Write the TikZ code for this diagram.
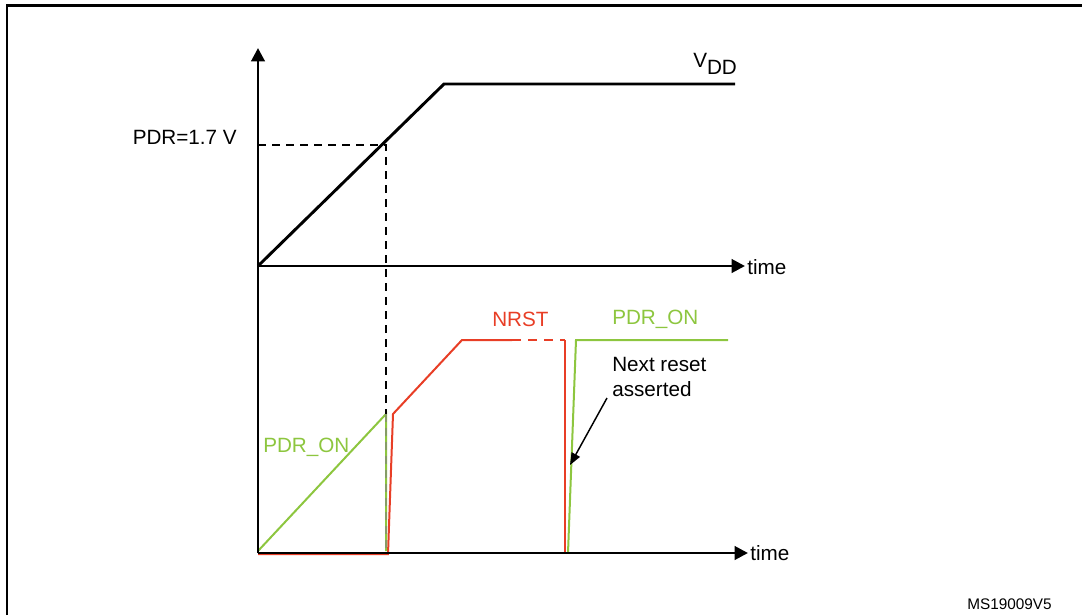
\documentclass[tikz,border=0pt]{standalone}
\usepackage{fontspec}
\setmainfont{Liberation Sans}
\usetikzlibrary{arrows.meta}
\definecolor{nred}{RGB}{232,62,38}
\definecolor{pgreen}{RGB}{141,198,63}
\begin{document}
\begin{tikzpicture}[x=0.75pt,y=-0.75pt,
  axis/.style={line width=2.2pt,-{Triangle[length=10pt,width=10pt]}},
  frame/.style={line width=1.6pt},
  vdd/.style={line width=2.2pt,line join=miter},
  guide/.style={line width=1.4pt,dashed,dash pattern=on 6pt off 4.5pt},
  redsig/.style={nred,line width=1.5pt},
  greensig/.style={pgreen,line width=1.5pt},
  lbl/.style={font=\fontsize{15.5}{19}\selectfont,inner sep=0pt},
  small/.style={font=\fontsize{11.5}{14}\selectfont,inner sep=0pt},
  annot/.style={line width=1.1pt,-{Triangle[length=9pt,width=7pt]}}]
\useasboundingbox (0,0) rectangle (1082,615);
% frame
\draw[frame] (7,615) -- (7,5.5) -- (1082,5.5);
% coordinates
\coordinate (o1) at (258,266);
\coordinate (ytop) at (258,48);
\coordinate (x1) at (745,266);
\coordinate (o2) at (258,553);
\coordinate (x2) at (748,553);
\coordinate (vk) at (444,84);
\coordinate (ve) at (735,84);
\coordinate (pdr) at (386,145);
\coordinate (pdrY) at (258,145);
\coordinate (gpk) at (386,414);
\coordinate (gb1) at (386,551);
\coordinate (g0) at (258,551);
\coordinate (gb2) at (568,553);
\coordinate (gt2) at (576,340);
\coordinate (ge2) at (728,340);
\coordinate (r0) at (258,554);
\coordinate (r1) at (388,554);
\coordinate (r2) at (393,414);
\coordinate (r3) at (462,340);
\coordinate (r4) at (512,340);
\coordinate (r5) at (565,340);
\coordinate (r6) at (565,553);
\coordinate (at) at (607,398);
\coordinate (ah) at (570,465);
% signals
\draw[redsig] (r0) -- (r1) -- (r2) -- (r3) -- (r4);
\draw[redsig,dashed,dash pattern=on 7pt off 5pt] (r4) -- (r5);
\draw[redsig] (r5) -- (r6);
\draw[greensig] (g0) -- (gpk) -- (gb1);
\draw[gray,opacity=0.6,line width=1.4pt,dash pattern=on 6pt off 4.5pt] (gpk) -- (gb1);
\draw[greensig] (gb2) -- (gt2) -- (ge2);
% axes
\draw[axis] (o2) -- (o1) -- (ytop);
\draw[axis] (o1) -- (x1);
\draw[axis] (o2) -- (x2);
% VDD
\draw[vdd] (o1) -- (vk) -- (ve);
% guides
\draw[guide] (pdrY) -- (pdr) -- (gpk);
% annotation arrow
\draw[annot] (at) -- (ah);
% labels
\node[lbl,anchor=east] (lpdr) at (237,137) {PDR=1.7 V};
\node[lbl,anchor=west] (lvdd) at (693,64) {V\raisebox{-5pt}{DD}};
\node[lbl,anchor=west] (lt1) at (747,267) {time};
\node[lbl,anchor=west] (lt2) at (750,553) {time};
\node[lbl,anchor=west,text=nred] (lnrst) at (492,319) {NRST};
\node[lbl,anchor=west,text=pgreen] (lpon1) at (612,319) {PDR\_ON};
\node[lbl,anchor=west,text=pgreen] (lpon2) at (263,447) {PDR\_ON};
\node[lbl,anchor=north west,align=left] (lnext) at (612,357) {Next reset\\asserted};
\node[small,anchor=west] (lms) at (967,604) {MS19009V5};
\end{tikzpicture}
\end{document}
